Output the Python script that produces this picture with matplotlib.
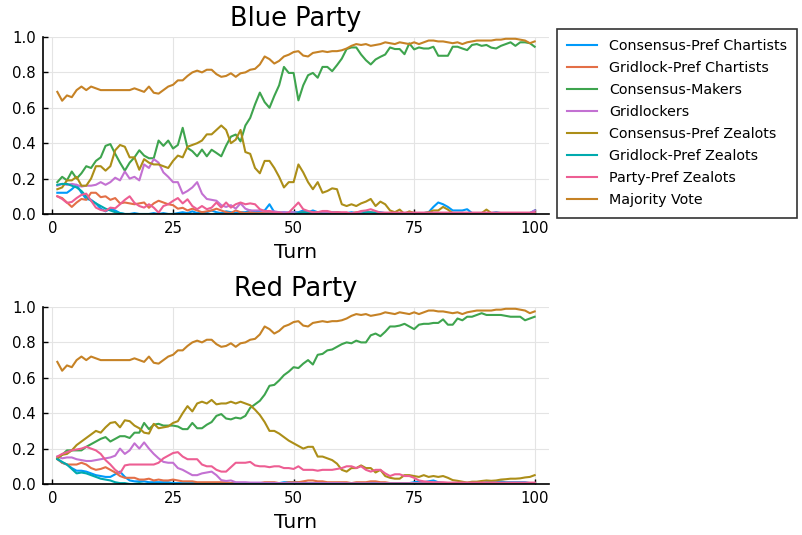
import matplotlib
matplotlib.use("Agg")
import matplotlib.pyplot as plt

turns = list(range(1, 101))

labels = ["Consensus-Pref Chartists", "Gridlock-Pref Chartists", "Consensus-Makers",
          "Gridlockers", "Consensus-Pref Zealots", "Gridlock-Pref Zealots",
          "Party-Pref Zealots", "Majority Vote"]
colors = ["#009AFA", "#E36F47", "#3EA44E", "#C371D2", "#AC8E18", "#00AAAE", "#ED5E93", "#C68225"]

majority_vote = [
    0.69, 0.64, 0.67, 0.66, 0.70, 0.72, 0.70, 0.72, 0.71, 0.70,
    0.70, 0.70, 0.70, 0.70, 0.70, 0.70, 0.71, 0.70, 0.69, 0.72,
    0.685, 0.68, 0.70, 0.72, 0.73, 0.755, 0.755, 0.78, 0.80, 0.81,
    0.80, 0.815, 0.815, 0.79, 0.775, 0.78, 0.795, 0.775, 0.795, 0.80,
    0.815, 0.82, 0.845, 0.89, 0.875, 0.85, 0.865, 0.89, 0.90, 0.915,
    0.92, 0.895, 0.89, 0.91, 0.915, 0.92, 0.915, 0.92, 0.92, 0.925,
    0.935, 0.95, 0.96, 0.955, 0.96, 0.95, 0.955, 0.96, 0.97, 0.965,
    0.96, 0.97, 0.965, 0.96, 0.97, 0.96, 0.97, 0.98, 0.98, 0.975,
    0.975, 0.97, 0.965, 0.97, 0.96, 0.97, 0.975, 0.98, 0.98, 0.98,
    0.98, 0.985, 0.985, 0.99, 0.99, 0.99, 0.985, 0.98, 0.965, 0.975]

# ---------------- Blue Party ----------------
blue_cpc = [
    0.12, 0.12, 0.12, 0.14, 0.165, 0.12, 0.085, 0.08, 0.06, 0.03,
    0.015, 0.03, 0.02, 0.005, 0.0, 0.0, 0.005, 0.0, 0.0, 0.0,
    0.005, 0.0, 0.005, 0.0, 0.0, 0.005, 0.01, 0.005, 0.015, 0.005,
    0.01, 0.01, 0.02, 0.01, 0.005, 0.015, 0.01, 0.005, 0.01, 0.01,
    0.02, 0.01, 0.015, 0.02, 0.055, 0.01, 0.005, 0.01, 0.005, 0.01,
    0.01, 0.02, 0.01, 0.02, 0.01, 0.01, 0.005, 0.01, 0.01, 0.005,
    0.005, 0.01, 0.005, 0.01, 0.01, 0.005, 0.01, 0.01, 0.005, 0.005,
    0.005, 0.005, 0.0, 0.0, 0.005, 0.0, 0.005, 0.01, 0.04, 0.065,
    0.055, 0.04, 0.02, 0.02, 0.02, 0.027, 0.005, 0.005, 0.005, 0.005,
    0.005, 0.01, 0.005, 0.005, 0.005, 0.005, 0.005, 0.005, 0.005, 0.02]
blue_gpc = [
    0.10, 0.09, 0.065, 0.04, 0.065, 0.085, 0.08, 0.12, 0.12, 0.095,
    0.10, 0.08, 0.09, 0.06, 0.065, 0.06, 0.055, 0.06, 0.065, 0.035,
    0.06, 0.075, 0.065, 0.055, 0.05, 0.03, 0.035, 0.02, 0.03, 0.02,
    0.01, 0.015, 0.02, 0.03, 0.02, 0.01, 0.005, 0.02, 0.01, 0.005,
    0.01, 0.005, 0.005, 0.01, 0.005, 0.005, 0.01, 0.005, 0.005, 0.005,
    0.005, 0.01, 0.005, 0.005, 0.01, 0.005, 0.005, 0.005, 0.01, 0.005,
    0.005, 0.005, 0.01, 0.005, 0.005, 0.01, 0.005, 0.005, 0.005, 0.005,
    0.005, 0.005, 0.005, 0.01, 0.005, 0.005, 0.005, 0.005, 0.005, 0.005,
    0.005, 0.005, 0.005, 0.005, 0.005, 0.005, 0.005, 0.005, 0.005, 0.005,
    0.005, 0.005, 0.005, 0.005, 0.005, 0.005, 0.005, 0.005, 0.005, 0.01]
blue_cm = [
    0.18, 0.21, 0.19, 0.24, 0.20, 0.23, 0.27, 0.26, 0.30, 0.32,
    0.385, 0.395, 0.34, 0.29, 0.245, 0.29, 0.32, 0.36, 0.33, 0.315,
    0.315, 0.415, 0.385, 0.415, 0.37, 0.39, 0.487, 0.373, 0.355, 0.326,
    0.364, 0.326, 0.363, 0.345, 0.326, 0.386, 0.437, 0.449, 0.41, 0.50,
    0.543, 0.619, 0.686, 0.632, 0.60, 0.667, 0.727, 0.831, 0.797, 0.797,
    0.642, 0.727, 0.784, 0.797, 0.77, 0.831, 0.831, 0.807, 0.841, 0.878,
    0.932, 0.941, 0.941, 0.901, 0.869, 0.845, 0.873, 0.888, 0.901, 0.941,
    0.932, 0.932, 0.903, 0.964, 0.93, 0.941, 0.935, 0.935, 0.945, 0.894,
    0.894, 0.894, 0.945, 0.945, 0.935, 0.926, 0.955, 0.96, 0.95, 0.955,
    0.94, 0.935, 0.95, 0.96, 0.97, 0.95, 0.97, 0.97, 0.965, 0.945]
blue_grid = [
    0.16, 0.17, 0.165, 0.17, 0.165, 0.155, 0.16, 0.16, 0.165, 0.18,
    0.165, 0.18, 0.205, 0.19, 0.24, 0.20, 0.21, 0.19, 0.28, 0.26,
    0.31, 0.29, 0.235, 0.21, 0.18, 0.18, 0.115, 0.13, 0.15, 0.18,
    0.115, 0.085, 0.08, 0.075, 0.05, 0.04, 0.05, 0.03, 0.06, 0.03,
    0.02, 0.02, 0.02, 0.015, 0.015, 0.015, 0.01, 0.01, 0.01, 0.01,
    0.005, 0.005, 0.005, 0.005, 0.005, 0.005, 0.005, 0.005, 0.005, 0.005,
    0.005, 0.005, 0.005, 0.005, 0.005, 0.005, 0.005, 0.005, 0.005, 0.005,
    0.005, 0.005, 0.005, 0.005, 0.005, 0.005, 0.005, 0.005, 0.005, 0.005,
    0.005, 0.005, 0.005, 0.005, 0.005, 0.005, 0.005, 0.005, 0.005, 0.005,
    0.005, 0.005, 0.005, 0.005, 0.005, 0.005, 0.005, 0.005, 0.005, 0.02]
blue_cpz = [
    0.14, 0.15, 0.19, 0.19, 0.21, 0.16, 0.16, 0.20, 0.27, 0.27,
    0.245, 0.27, 0.36, 0.39, 0.38, 0.32, 0.32, 0.25, 0.31, 0.29,
    0.28, 0.28, 0.27, 0.26, 0.30, 0.33, 0.32, 0.38, 0.39, 0.40,
    0.415, 0.45, 0.45, 0.475, 0.50, 0.475, 0.40, 0.42, 0.475, 0.35,
    0.34, 0.26, 0.23, 0.30, 0.30, 0.26, 0.21, 0.15, 0.18, 0.18,
    0.28, 0.235, 0.18, 0.14, 0.18, 0.12, 0.13, 0.145, 0.14, 0.055,
    0.045, 0.055, 0.045, 0.06, 0.07, 0.085, 0.045, 0.07, 0.055, 0.02,
    0.01, 0.025, 0.0, 0.015, 0.005, 0.005, 0.005, 0.01, 0.02, 0.02,
    0.04, 0.025, 0.005, 0.005, 0.005, 0.005, 0.005, 0.005, 0.005, 0.025,
    0.005, 0.005, 0.005, 0.005, 0.005, 0.005, 0.005, 0.005, 0.005, 0.005]
blue_gpz = [
    0.165, 0.17, 0.17, 0.16, 0.15, 0.13, 0.10, 0.075, 0.06, 0.045,
    0.03, 0.02, 0.01, 0.005, 0.0, 0.0, 0.0, 0.0, 0.0, 0.0,
    0.0, 0.0, 0.0, 0.0, 0.0, 0.0, 0.0, 0.0, 0.0, 0.0,
    0.0, 0.0, 0.0, 0.0, 0.0, 0.0, 0.0, 0.0, 0.0, 0.0,
    0.0, 0.0, 0.0, 0.0, 0.0, 0.0, 0.0, 0.0, 0.0, 0.0,
    0.005, 0.01, 0.005, 0.01, 0.005, 0.0, 0.0, 0.0, 0.0, 0.0,
    0.0, 0.0, 0.0, 0.0, 0.01, 0.01, 0.005, 0.0, 0.0, 0.0,
    0.0, 0.0, 0.0, 0.0, 0.0, 0.0, 0.0, 0.0, 0.0, 0.0,
    0.0, 0.0, 0.0, 0.0, 0.0, 0.0, 0.0, 0.0, 0.0, 0.0,
    0.0, 0.0, 0.0, 0.0, 0.0, 0.0, 0.0, 0.0, 0.0, 0.0]
blue_ppz = [
    0.10, 0.085, 0.063, 0.068, 0.09, 0.108, 0.115, 0.075, 0.036, 0.023,
    0.017, 0.036, 0.032, 0.055, 0.08, 0.10, 0.063, 0.045, 0.036, 0.055,
    0.036, 0.008, 0.045, 0.055, 0.074, 0.09, 0.06, 0.083, 0.045, 0.027,
    0.045, 0.027, 0.036, 0.065, 0.036, 0.065, 0.036, 0.055, 0.065, 0.055,
    0.06, 0.055, 0.027, 0.017, 0.017, 0.008, 0.008, 0.0, 0.008, 0.036,
    0.065, 0.027, 0.017, 0.01, 0.01, 0.017, 0.017, 0.01, 0.01, 0.01,
    0.01, 0.0, 0.008, 0.017, 0.02, 0.027, 0.017, 0.008, 0.008, 0.008,
    0.008, 0.008, 0.008, 0.008, 0.008, 0.008, 0.008, 0.008, 0.008, 0.008,
    0.008, 0.008, 0.008, 0.008, 0.008, 0.008, 0.008, 0.008, 0.008, 0.008,
    0.008, 0.008, 0.008, 0.008, 0.008, 0.008, 0.008, 0.008, 0.008, 0.008]

# ---------------- Red Party ----------------
red_cpc = [
    0.145, 0.12, 0.11, 0.09, 0.075, 0.075, 0.07, 0.06, 0.05, 0.045,
    0.04, 0.04, 0.055, 0.07, 0.04, 0.02, 0.015, 0.015, 0.015, 0.01,
    0.01, 0.01, 0.01, 0.01, 0.005, 0.005, 0.005, 0.005, 0.005, 0.005,
    0.005, 0.005, 0.005, 0.005, 0.005, 0.005, 0.005, 0.005, 0.005, 0.005,
    0.005, 0.005, 0.005, 0.005, 0.005, 0.005, 0.005, 0.01, 0.01, 0.01,
    0.01, 0.01, 0.005, 0.005, 0.005, 0.005, 0.005, 0.005, 0.005, 0.005,
    0.005, 0.005, 0.005, 0.005, 0.005, 0.005, 0.005, 0.005, 0.005, 0.005,
    0.005, 0.005, 0.005, 0.005, 0.01, 0.015, 0.01, 0.015, 0.02, 0.01,
    0.005, 0.005, 0.005, 0.005, 0.005, 0.005, 0.005, 0.005, 0.005, 0.01,
    0.01, 0.01, 0.015, 0.01, 0.01, 0.01, 0.01, 0.01, 0.005, 0.005]
red_gpc = [
    0.14, 0.12, 0.11, 0.11, 0.11, 0.12, 0.11, 0.09, 0.08, 0.085,
    0.095, 0.08, 0.065, 0.045, 0.035, 0.035, 0.035, 0.025, 0.025, 0.03,
    0.02, 0.025, 0.02, 0.02, 0.025, 0.02, 0.015, 0.015, 0.015, 0.01,
    0.01, 0.01, 0.01, 0.01, 0.01, 0.01, 0.005, 0.005, 0.005, 0.005,
    0.005, 0.005, 0.005, 0.01, 0.01, 0.01, 0.005, 0.005, 0.01, 0.01,
    0.01, 0.015, 0.02, 0.02, 0.015, 0.015, 0.01, 0.01, 0.01, 0.01,
    0.01, 0.005, 0.01, 0.01, 0.01, 0.015, 0.015, 0.01, 0.01, 0.005,
    0.005, 0.005, 0.005, 0.005, 0.005, 0.005, 0.005, 0.005, 0.005, 0.005,
    0.005, 0.005, 0.005, 0.005, 0.005, 0.005, 0.005, 0.005, 0.005, 0.005,
    0.005, 0.005, 0.005, 0.005, 0.005, 0.005, 0.005, 0.005, 0.005, 0.005]
red_cm = [
    0.145, 0.165, 0.19, 0.19, 0.19, 0.19, 0.21, 0.225, 0.24, 0.255,
    0.265, 0.24, 0.255, 0.27, 0.27, 0.26, 0.29, 0.29, 0.345, 0.31,
    0.335, 0.34, 0.33, 0.33, 0.33, 0.325, 0.31, 0.31, 0.345, 0.315,
    0.315, 0.335, 0.35, 0.385, 0.395, 0.37, 0.365, 0.375, 0.37, 0.385,
    0.43, 0.45, 0.47, 0.505, 0.555, 0.56, 0.585, 0.615, 0.635, 0.66,
    0.655, 0.68, 0.70, 0.675, 0.73, 0.735, 0.755, 0.76, 0.775, 0.79,
    0.80, 0.795, 0.81, 0.80, 0.80, 0.84, 0.85, 0.835, 0.86, 0.89,
    0.89, 0.895, 0.905, 0.89, 0.875, 0.90, 0.905, 0.905, 0.91, 0.91,
    0.93, 0.90, 0.90, 0.935, 0.925, 0.945, 0.945, 0.955, 0.965, 0.955,
    0.955, 0.955, 0.955, 0.95, 0.945, 0.945, 0.945, 0.925, 0.935, 0.945]
red_grid = [
    0.155, 0.145, 0.15, 0.15, 0.14, 0.135, 0.13, 0.13, 0.135, 0.14,
    0.145, 0.15, 0.16, 0.20, 0.17, 0.19, 0.23, 0.20, 0.235, 0.20,
    0.17, 0.145, 0.125, 0.12, 0.12, 0.09, 0.08, 0.065, 0.05, 0.05,
    0.06, 0.065, 0.07, 0.05, 0.022, 0.017, 0.02, 0.01, 0.01, 0.01,
    0.008, 0.008, 0.008, 0.006, 0.006, 0.006, 0.005, 0.005, 0.005, 0.005,
    0.005, 0.005, 0.005, 0.005, 0.005, 0.005, 0.005, 0.005, 0.005, 0.005,
    0.004, 0.004, 0.004, 0.004, 0.004, 0.004, 0.004, 0.004, 0.004, 0.004,
    0.004, 0.004, 0.004, 0.004, 0.004, 0.004, 0.004, 0.004, 0.004, 0.004,
    0.004, 0.004, 0.004, 0.004, 0.004, 0.004, 0.004, 0.004, 0.004, 0.004,
    0.004, 0.004, 0.004, 0.004, 0.004, 0.004, 0.004, 0.004, 0.004, 0.004]
red_cpz = [
    0.145, 0.165, 0.17, 0.19, 0.22, 0.24, 0.26, 0.28, 0.30, 0.29,
    0.32, 0.345, 0.35, 0.32, 0.36, 0.355, 0.33, 0.315, 0.29, 0.285,
    0.34, 0.315, 0.32, 0.325, 0.345, 0.355, 0.40, 0.44, 0.41, 0.455,
    0.465, 0.455, 0.475, 0.45, 0.455, 0.455, 0.465, 0.455, 0.465, 0.455,
    0.445, 0.42, 0.39, 0.35, 0.30, 0.30, 0.285, 0.265, 0.245, 0.23,
    0.215, 0.20, 0.21, 0.21, 0.155, 0.155, 0.145, 0.135, 0.115, 0.08,
    0.07, 0.09, 0.09, 0.105, 0.09, 0.09, 0.065, 0.08, 0.045, 0.035,
    0.03, 0.03, 0.05, 0.05, 0.045, 0.04, 0.05, 0.04, 0.045, 0.04,
    0.045, 0.035, 0.022, 0.018, 0.013, 0.008, 0.013, 0.013, 0.017, 0.02,
    0.018, 0.02, 0.025, 0.027, 0.03, 0.03, 0.032, 0.037, 0.04, 0.05]
red_gpz = [
    0.14, 0.125, 0.11, 0.085, 0.06, 0.065, 0.06, 0.05, 0.04, 0.03,
    0.025, 0.02, 0.01, 0.005, 0.005, 0.0, 0.0, 0.005, 0.0, 0.0,
    0.0, 0.0, 0.0, 0.0, 0.0, 0.0, 0.0, 0.0, 0.0, 0.0,
    0.0, 0.0, 0.0, 0.0, 0.0, 0.0, 0.0, 0.0, 0.0, 0.0,
    0.0, 0.0, 0.0, 0.0, 0.0, 0.0, 0.0, 0.0, 0.0, 0.0,
    0.0, 0.0, 0.0, 0.0, 0.0, 0.0, 0.0, 0.0, 0.0, 0.0,
    0.0, 0.0, 0.0, 0.0, 0.0, 0.0, 0.0, 0.0, 0.0, 0.0,
    0.0, 0.0, 0.0, 0.0, 0.0, 0.0, 0.0, 0.0, 0.0, 0.0,
    0.0, 0.0, 0.0, 0.0, 0.0, 0.0, 0.0, 0.0, 0.0, 0.0,
    0.0, 0.0, 0.0, 0.0, 0.0, 0.0, 0.0, 0.0, 0.0, 0.0]
red_ppz = [
    0.155, 0.17, 0.18, 0.19, 0.195, 0.20, 0.21, 0.20, 0.19, 0.17,
    0.135, 0.11, 0.08, 0.06, 0.105, 0.11, 0.11, 0.11, 0.11, 0.11,
    0.11, 0.12, 0.145, 0.16, 0.175, 0.18, 0.155, 0.14, 0.14, 0.14,
    0.11, 0.10, 0.10, 0.08, 0.07, 0.07, 0.095, 0.12, 0.12, 0.12,
    0.125, 0.105, 0.10, 0.10, 0.095, 0.10, 0.10, 0.09, 0.09, 0.085,
    0.10, 0.08, 0.08, 0.08, 0.075, 0.08, 0.08, 0.08, 0.085, 0.09,
    0.10, 0.10, 0.09, 0.10, 0.08, 0.07, 0.08, 0.08, 0.06, 0.045,
    0.055, 0.055, 0.045, 0.045, 0.035, 0.02, 0.015, 0.012, 0.01, 0.01,
    0.01, 0.008, 0.008, 0.008, 0.008, 0.008, 0.008, 0.008, 0.008, 0.008,
    0.008, 0.008, 0.008, 0.008, 0.008, 0.008, 0.008, 0.008, 0.008, 0.008]

blue_series = [blue_cpc, blue_gpc, blue_cm, blue_grid, blue_cpz, blue_gpz, blue_ppz, majority_vote]
red_series = [red_cpc, red_gpc, red_cm, red_grid, red_cpz, red_gpz, red_ppz, majority_vote]

W, H = 802, 535
fig = plt.figure(figsize=(W / 100, H / 100), dpi=100)

def px_axes(left, top, right, bottom):
    return fig.add_axes([left / W, 1 - bottom / H, (right - left) / W, (bottom - top) / H])

ax1 = px_axes(43, 37, 549, 214)
ax2 = px_axes(43, 307, 549, 484)

for ax, series, title in [(ax1, blue_series, "Blue Party"), (ax2, red_series, "Red Party")]:
    for vals, lab, col in zip(series, labels, colors):
        ax.plot(turns, vals, color=col, lw=1.5, label=lab, solid_joinstyle="round")
    ax.set_xlim(-1.97, 102.97)
    ax.set_ylim(0, 1)
    ax.set_xticks([0, 25, 50, 75, 100])
    ax.set_yticks([0.0, 0.2, 0.4, 0.6, 0.8, 1.0])
    ax.set_yticklabels(["0.0", "0.2", "0.4", "0.6", "0.8", "1.0"])
    ax.grid(True, color="#e4e4e4", lw=0.8)
    ax.set_axisbelow(True)
    for s in ["top", "right"]:
        ax.spines[s].set_visible(False)
    for s in ["left", "bottom"]:
        ax.spines[s].set_linewidth(1.2)
        ax.spines[s].set_color("black")
    ax.tick_params(direction="in", length=3.5, width=1, labelsize=10.7, pad=5, colors="black")
    ax.set_title(title, fontsize=18.5, pad=8)
    ax.set_xlabel("Turn", fontsize=14.5, labelpad=5)

leg = ax1.legend(loc="upper left", bbox_to_anchor=(557 / W, 1 - 29 / H),
                 bbox_transform=fig.transFigure, fontsize=10.3, frameon=True,
                 fancybox=False, borderaxespad=0, borderpad=0.72, labelspacing=0.56,
                 handlelength=2.05, handletextpad=0.85)
leg.get_frame().set_edgecolor("black")
leg.get_frame().set_linewidth(1.2)

fig.savefig("out.png", dpi=100)
